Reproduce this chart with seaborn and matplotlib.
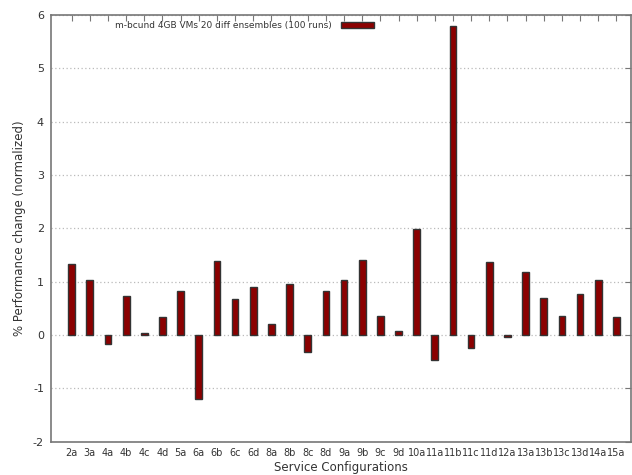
import matplotlib
matplotlib.use("Agg")
import matplotlib.pyplot as plt
import seaborn as sns
import pandas as pd

configs = ["2a", "3a", "4a", "4b", "4c", "4d", "5a", "6a", "6b", "6c", "6d",
           "8a", "8b", "8c", "8d", "9a", "9b", "9c", "9d", "10a", "11a", "11b",
           "11c", "11d", "12a", "13a", "13b", "13c", "13d", "14a", "15a"]
perf_change = [1.33, 1.03, -0.17, 0.73, 0.04, 0.33, 0.83, -1.21, 1.38, 0.68, 0.90,
               0.21, 0.95, -0.33, 0.82, 1.02, 1.41, 0.35, 0.08, 1.99, -0.48, 5.80,
               -0.25, 1.37, -0.04, 1.18, 0.69, 0.36, 0.77, 1.02, 0.33]
series_label = "m-bcund 4GB VMs 20 diff ensembles (100 runs)"

df = pd.DataFrame({"config": configs, "value": perf_change})

sns.set_style("white")
plt.rcParams["font.family"] = ["DejaVu Sans"]
plt.rcParams["axes.unicode_minus"] = False

fig = plt.figure(figsize=(6.32, 4.75), dpi=100)
ax = fig.add_axes([0.0807, 0.0705, 0.917, 0.898])

sns.barplot(data=df, x="config", y="value", color="#8b0000", saturation=1,
            width=0.37, edgecolor="#333333", linewidth=1.0, ax=ax,
            label=series_label, zorder=3)

ax.set_ylim(-2, 6)
ax.set_xlim(-1.14, 30.78)
ax.set_yticks(range(-2, 7))
ax.yaxis.grid(True, linestyle=(0, (1, 2)), color="#bbbbbb", linewidth=0.9, zorder=0)
ax.xaxis.grid(False)

for s in ax.spines.values():
    s.set_color("#777777")
    s.set_linewidth(1.2)

ax.tick_params(axis="both", which="both", direction="in", length=4, width=0.8,
               color="#777777", labelsize=7, labelcolor="#333333",
               top=True, right=True, pad=5)
ax.tick_params(axis="y", labelsize=8)

ax.set_xlabel("Service Configurations", fontsize=8.5, color="#333333", labelpad=2)
ax.set_ylabel("% Performance change (normalized)", fontsize=8.5, color="#333333", labelpad=5)

leg = ax.legend(loc="upper center", bbox_to_anchor=(0.334, 1.005), frameon=False,
                markerfirst=False, fontsize=6.5, handlelength=3.6, handleheight=0.6,
                handletextpad=1.0)
for t in leg.get_texts():
    t.set_color("#333333")

fig.savefig("out.png", dpi=100)
